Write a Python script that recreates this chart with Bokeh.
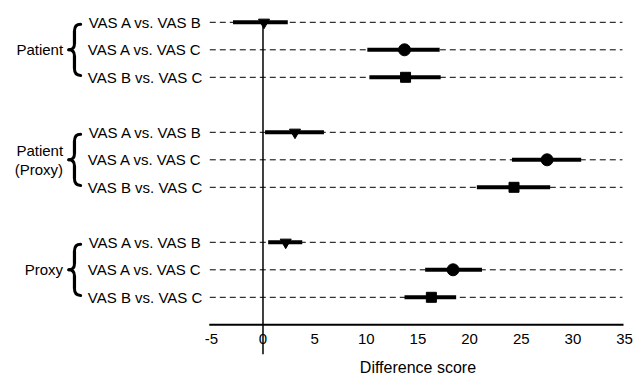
from bokeh.plotting import figure
from bokeh.models import ColumnDataSource, Range1d
from bokeh.core.properties import value
from bokeh.embed import file_html
from bokeh.resources import INLINE

# ---- data ----
groups = ["Patient", "Patient\n(Proxy)", "Proxy"]
comparisons = ["VAS A vs. VAS B", "VAS A vs. VAS C", "VAS B vs. VAS C"]
markers = ["inverted_triangle", "circle", "square"]
marker_sizes = [11, 12, 10]

patient_est = [0.1, 13.7, 13.8]
patient_lo = [-2.9, 10.1, 10.3]
patient_hi = [2.4, 17.1, 17.2]

patient_proxy_est = [3.1, 27.5, 24.3]
patient_proxy_lo = [0.2, 24.1, 20.7]
patient_proxy_hi = [5.9, 30.8, 27.8]

proxy_est = [2.2, 18.4, 16.3]
proxy_lo = [0.5, 15.7, 13.7]
proxy_hi = [3.8, 21.2, 18.7]

x_ticks = [-5, 0, 5, 10, 15, 20, 25, 30, 35]
x_label = "Difference score"

# ---- assemble rows ----
est_all = [patient_est, patient_proxy_est, proxy_est]
lo_all = [patient_lo, patient_proxy_lo, proxy_lo]
hi_all = [patient_hi, patient_proxy_hi, proxy_hi]

rows = dict(y=[], est=[], lo=[], hi=[], label=[], marker=[], size=[])
for g in range(len(groups)):
    for c in range(len(comparisons)):
        rows["y"].append(4 * g + c)
        rows["est"].append(est_all[g][c])
        rows["lo"].append(lo_all[g][c])
        rows["hi"].append(hi_all[g][c])
        rows["label"].append(comparisons[c])
        rows["marker"].append(markers[c])
        rows["size"].append(marker_sizes[c])
src = ColumnDataSource(rows)

x_min, x_max = x_ticks[0], x_ticks[-1]
axis_y = 4 * (len(groups) - 1) + len(comparisons)  # row index of the axis line

FONT = value("Liberation Sans")
FS = "15px"

p = figure(width=635, height=376,
           x_range=Range1d(-25.41, 36.06), y_range=Range1d(12.88, -0.793),
           output_backend="svg", toolbar_location=None,
           x_axis_location=None, y_axis_location=None,
           min_border=0, min_border_left=0, min_border_right=0,
           min_border_top=0, min_border_bottom=0)
p.outline_line_color = None
p.xgrid.visible = False
p.ygrid.visible = False
p.background_fill_color = "white"
p.border_fill_color = "white"

# dashed reference lines
p.segment(x0=x_min - 0.15, x1=x_max - 0.2, y0="y", y1="y", source=src,
          line_color="black", line_width=1, line_dash="6 4")

# zero line
p.segment(x0=[0], x1=[0], y0=[0], y1=[axis_y + 1.07], line_color="black", line_width=1.5)

# axis line
p.segment(x0=[x_min - 0.2], x1=[x_max - 0.1], y0=[axis_y], y1=[axis_y],
          line_color="black", line_width=2)

# CI bars
p.segment(x0="lo", x1="hi", y0="y", y1="y", source=src,
          line_color="black", line_width=4, line_cap="butt")

# point estimates
p.scatter(x="est", y="y", marker="marker", size="size", source=src,
          fill_color="black", line_color="black")

# tick labels
p.text(x=x_ticks, y=[axis_y + 0.53] * len(x_ticks), text=[str(t) for t in x_ticks],
       text_font=FONT, text_font_size=FS, text_color="black",
       text_align="center", text_baseline="middle")

# axis title
p.text(x=[(x_min + x_max) / 2], y=[axis_y + 1.55], text=[x_label],
       text_font=FONT, text_font_size="16px", text_color="black",
       text_align="center", text_baseline="middle")

# row labels
p.text(x=x_min, y="y", text="label", source=src, x_offset=-9,
       text_font=FONT, text_font_size=FS, text_color="black",
       text_align="right", text_baseline="middle")

# group labels
gc = [4 * g + 1 for g in range(len(groups))]
p.text(x=[-19.35] * len(groups), y=gc, text=groups,
       text_font=FONT, text_font_size=FS, text_color="black",
       text_align="right", text_baseline="middle", text_line_height=1.1)

# braces
tip, spine, end = -18.8, -18.25, -17.65
half, curl, mid = 0.93, 0.25, 0.22
q = dict(x0=[], y0=[], x1=[], y1=[], cx=[], cy=[])
s = dict(x0=[], y0=[], x1=[], y1=[])
for kc in gc:
    top, bot = kc - half, kc + half
    for a, b, c in [((end, top), (spine, top + curl), (spine, top)),
                    ((spine, kc - mid), (tip, kc), (spine, kc)),
                    ((tip, kc), (spine, kc + mid), (spine, kc)),
                    ((spine, bot - curl), (end, bot), (spine, bot))]:
        q["x0"].append(a[0]); q["y0"].append(a[1])
        q["x1"].append(b[0]); q["y1"].append(b[1])
        q["cx"].append(c[0]); q["cy"].append(c[1])
    s["x0"] += [spine, spine]; s["x1"] += [spine, spine]
    s["y0"] += [top + curl, kc + mid]; s["y1"] += [kc - mid, bot - curl]
p.quadratic(x0="x0", y0="y0", x1="x1", y1="y1", cx="cx", cy="cy",
            source=ColumnDataSource(q), line_color="black", line_width=3, line_cap="round")
p.segment(x0="x0", y0="y0", x1="x1", y1="y1", source=ColumnDataSource(s),
          line_color="black", line_width=3.2)

open("out.html", "w").write(file_html(p, INLINE))
